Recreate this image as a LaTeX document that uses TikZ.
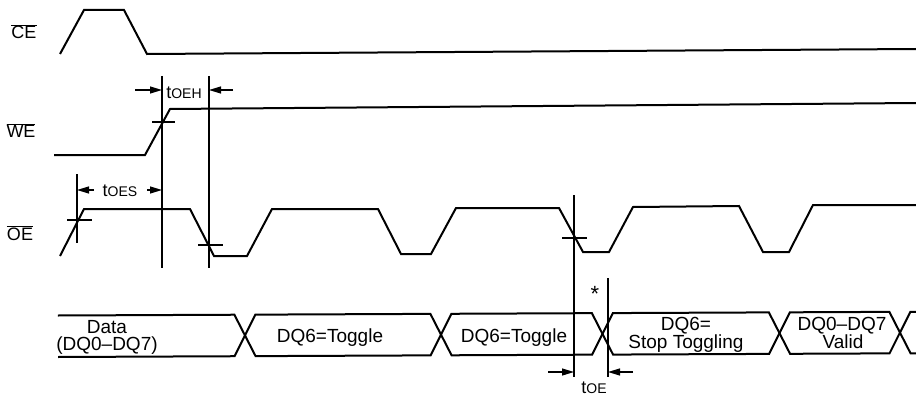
\documentclass[tikz,border=0pt]{standalone}
\usepackage{fontspec}
\setmainfont{Liberation Sans}
\usetikzlibrary{arrows.meta}
\newcommand\tlab[1]{t{\fontsize{14}{14}\selectfont #1}}
\begin{document}
\begin{tikzpicture}[x=1pt,y=-1pt,
  wave/.style={line width=2pt, line join=miter},
  bus/.style={line width=2pt, line join=miter},
  guide/.style={line width=1.1pt},
  tick/.style={line width=1.2pt},
  dim/.style={line width=1.2pt, -{Triangle[length=12pt,width=7pt]}},
  sig/.style={font=\fontsize{18}{18}\selectfont, anchor=base, inner sep=0pt},
  bt/.style={font=\fontsize{19}{19}\selectfont, anchor=base, inner sep=0pt},
  tl/.style={font=\fontsize{18}{18}\selectfont, anchor=base, inner sep=0pt}]
\useasboundingbox[fill=white] (0,0) rectangle (916,396);

% signal names
\node[sig] (ce) at (24,39) {$\overline{\mbox{CE}}$};
\node[sig] (we) at (21,137.5) {$\overline{\mbox{WE}}$};
\node[sig] (oe) at (20,240) {$\overline{\mbox{OE}}$};

% waveforms
\draw[wave] (60,54)--(84,10)--(124,10)--(147,54)--(916,49);
\draw[wave] (54,155)--(145,155)--(170,109)--(916,103);
\draw[wave] (60,256)--(84,209)--(190,209)--(214,256)--(247,256)--(272,209)
  --(378,209)--(401,254)--(431,254)--(456,208)--(559,208)--(583,252)
  --(609,252)--(633,207)--(739,206)--(763,252)--(789,252)--(813,205)--(916,205);

% guide lines
\coordinate (g1t) at (162,76);  \coordinate (g1b) at (162,268);
\coordinate (g2t) at (209,76);  \coordinate (g2b) at (209,268);
\coordinate (g3t) at (77,174);  \coordinate (g3b) at (77,243);
\coordinate (g4t) at (574,195); \coordinate (g4b) at (574,377);
\coordinate (g5t) at (608,278); \coordinate (g5b) at (608,377);
\draw[guide] (g1t)--(g1b);
\draw[guide] (g2t)--(g2b);
\draw[guide] (g3t)--(g3b);
\draw[guide] (g4t)--(g4b);
\draw[guide] (g5t)--(g5b);

% crossing ticks
\draw[tick] (152,122)--(175,122);
\draw[tick] (67,220)--(92,220);
\draw[tick] (198,245)--(223,245);
\draw[tick] (562,238)--(587,238);

% tOEH
\coordinate (a1) at (135,90); \coordinate (a1e) at (162,90);
\coordinate (a2) at (233,90); \coordinate (a2e) at (209,90);
\draw[dim] (a1)--(a1e);
\draw[dim] (a2)--(a2e);
\node[tl] (toeh) at (184,99) {\tlab{OEH}};

% tOES
\coordinate (b1) at (94,190); \coordinate (b1e) at (77,190);
\coordinate (b2) at (147,190); \coordinate (b2e) at (162,190);
\draw[dim] (b1)--(b1e);
\draw[dim] (b2)--(b2e);
\node[tl] (toes) at (120,196.5) {\tlab{OES}};

% tOE
\coordinate (c1) at (548,372); \coordinate (c1e) at (574,372);
\coordinate (c2) at (633,372); \coordinate (c2e) at (608,372);
\draw[dim] (c1)--(c1e);
\draw[dim] (c2)--(c2e);
\node[tl] (toe) at (594,393.5) {\tlab{OE}};

\node[font=\fontsize{22}{22}\selectfont, inner sep=0pt, anchor=base] (star) at (595,301) {*};

% data bus
\begin{scope}[rotate around={0.25:(58,337)}, bus]
  \def\T{315.5}\def\B{357}\def\M{336.25}
  \draw (58,\T)--(234.5,\T)--(245,\M)--(234.5,\B)--(58,\B);
  \draw (245,\M)--(255.5,\T)--(430.5,\T)--(441,\M)--(430.5,\B)--(255.5,\B)--cycle;
  \draw (441,\M)--(451.5,\T)--(592,\T)--(602.5,\M)--(592,\B)--(451.5,\B)--cycle;
  \draw (602.5,\M)--(613,\T)--(769,\T)--(779.5,\M)--(769,\B)--(613,\B)--cycle;
  \draw (779.5,\M)--(790,\T)--(889.5,\T)--(900,\M)--(889.5,\B)--(790,\B)--cycle;
  \draw (918,\T)--(910.5,\T)--(900,\M)--(910.5,\B)--(918,\B);
\end{scope}

\node[bt] (d0a) at (107,333) {Data};
\node[bt] (d0b) at (107,350.5) {(DQ0--DQ7)};
\node[bt] (d1) at (330,342) {DQ6=Toggle};
\node[bt] (d2) at (514,342) {DQ6=Toggle};
\node[bt] (d3a) at (686,330.5) {DQ6=};
\node[bt] (d3b) at (686,348.5) {Stop Toggling};
\node[bt] (d4a) at (842,330.5) {DQ0--DQ7};
\node[bt] (d4b) at (843,348.5) {Valid};
\end{tikzpicture}
\end{document}
